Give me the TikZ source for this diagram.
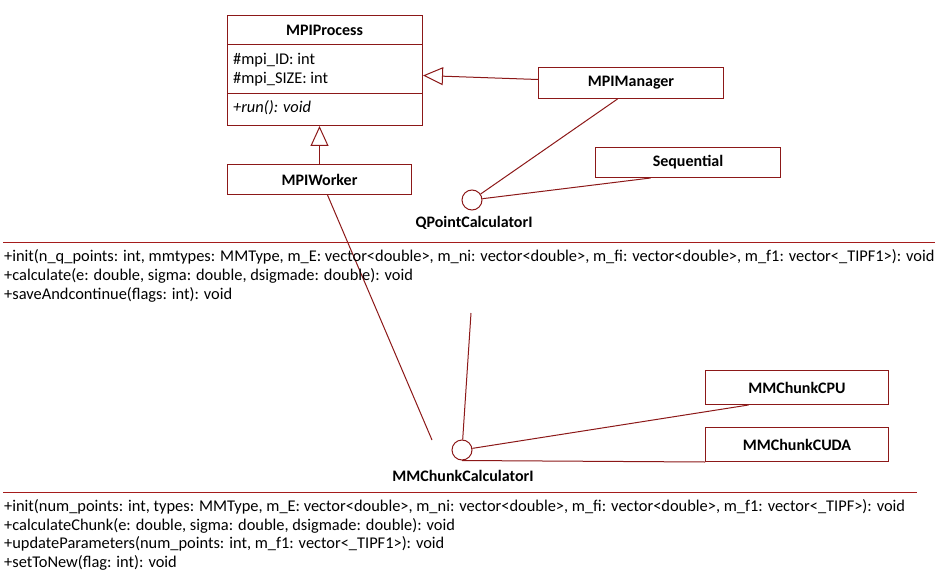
\documentclass[tikz,border=0pt]{standalone}
\usepackage{fontspec}
\setmainfont{Carlito}
\usetikzlibrary{arrows.meta,calc}
\definecolor{umlred}{RGB}{140,24,24}
\definecolor{seprule}{RGB}{165,28,28}
\tikzset{
  txt/.style={font=\fontsize{16.4}{19}\selectfont, inner sep=0pt},
  ttl/.style={font=\fontsize{16.0}{19}\selectfont\bfseries, inner sep=0pt},
  classbox/.style={draw=umlred, line width=1pt, rectangle, inner sep=0pt, anchor=north west},
  iface/.style={draw=umlred, line width=1pt, circle, minimum size=20pt, inner sep=0pt},
  link/.style={draw=umlred, line width=1pt},
  inh/.style={link, -{Triangle[open, length=20pt, width=18pt, line width=1pt]}}
}
\begin{document}
\begin{tikzpicture}[x=1pt, y=-1pt]
\useasboundingbox (0,0) rectangle (936,572);

% MPIProcess class with attribute and operation compartments
\node[classbox, minimum width=195pt, minimum height=110pt] (proc) at (227,15) {};
\node[ttl] (proctitle) at (324.5,30) {MPIProcess};
\draw[link] (227,45) -- (422,45);
\draw[link] (227,94) -- (422,94);
\node[txt, anchor=base west] (attrid) at (233,65) {\#mpi\_ID: int};
\node[txt, anchor=base west] (attrsize) at (233,84) {\#mpi\_SIZE: int};
\node[txt, anchor=base west] (oprun) at (233,113) {\itshape +run(): void};

% Subclasses and implementing classes
\node[classbox, minimum width=184pt, minimum height=30pt] (wrk) at (227,164) {};
\node[ttl] (wrktitle) at (wrk.center) {MPIWorker};
\node[classbox, minimum width=185pt, minimum height=31pt] (mgr) at (538,67) {};
\node[ttl] (mgrtitle) at (mgr.center) {MPIManager};
\node[classbox, minimum width=185pt, minimum height=30pt] (seq) at (595,147) {};
\node[ttl] (seqtitle) at (seq.center) {Sequential};
\node[classbox, minimum width=183pt, minimum height=34pt] (cpu) at (705,370) {};
\node[ttl] (cputitle) at (cpu.center) {MMChunkCPU};
\node[classbox, minimum width=183pt, minimum height=34pt] (cuda) at (705,427) {};
\node[ttl] (cudatitle) at (cuda.center) {MMChunkCUDA};

% Interfaces (lollipop notation)
\node[iface] (qpc) at (472,200) {};
\node[ttl] (qpclabel) at (474,223) {QPointCalculatorI};
\node[iface] (mmc) at (462,450) {};
\node[ttl] (mmclabel) at (463,476) {MMChunkCalculatorI};

% Generalisations
\draw[inh] (wrk.north) -- (wrk.north |- proc.south);
\draw[inh] ([yshift=3.5pt]mgr.west) -- ([yshift=-5pt]proc.east);

% Interface realisations
\draw[link] (qpc) -- ([xshift=-13.5pt]mgr.south);
\draw[link] (qpc) -- ([xshift=-37.5pt]seq.south);
\coordinate (wend) at (432,440);
\draw[link] ([xshift=8pt]wrk.south) -- (wend);
\coordinate (freeend) at (471,313);
\draw[link] (freeend) -- (mmc);
\draw[link] (mmc) -- ([xshift=-48.5pt]cpu.south);
\draw[link] (mmc.south) -- (cuda.south west);

% QPointCalculatorI operations
\draw[seprule, line width=1pt] (3,242) -- (935,242);
\node[txt, anchor=base west] (qop1) at (4,261) {+init(n\_q\_points: int, mmtypes: MMType, m\_E: vector<double>, m\_ni: vector<double>, m\_fi: vector<double>, m\_f1: vector<\_TIPF1>): void};
\node[txt, anchor=base west] (qop2) at (4,280) {+calculate(e: double, sigma: double, dsigmade: double): void};
\node[txt, anchor=base west] (qop3) at (4,299) {+saveAndcontinue(flags: int): void};

% MMChunkCalculatorI operations
\draw[seprule, line width=1pt] (3,492.5) -- (917,492.5);
\node[txt, anchor=base west] (mop1) at (4,511) {+init(num\_points: int, types: MMType, m\_E: vector<double>, m\_ni: vector<double>, m\_fi: vector<double>, m\_f1: vector<\_TIPF>): void};
\node[txt, anchor=base west] (mop2) at (4,530) {+calculateChunk(e: double, sigma: double, dsigmade: double): void};
\node[txt, anchor=base west] (mop3) at (4,548) {+updateParameters(num\_points: int, m\_f1: vector<\_TIPF1>): void};
\node[txt, anchor=base west] (mop4) at (4,567) {+setToNew(flag: int): void};
\end{tikzpicture}
\end{document}
